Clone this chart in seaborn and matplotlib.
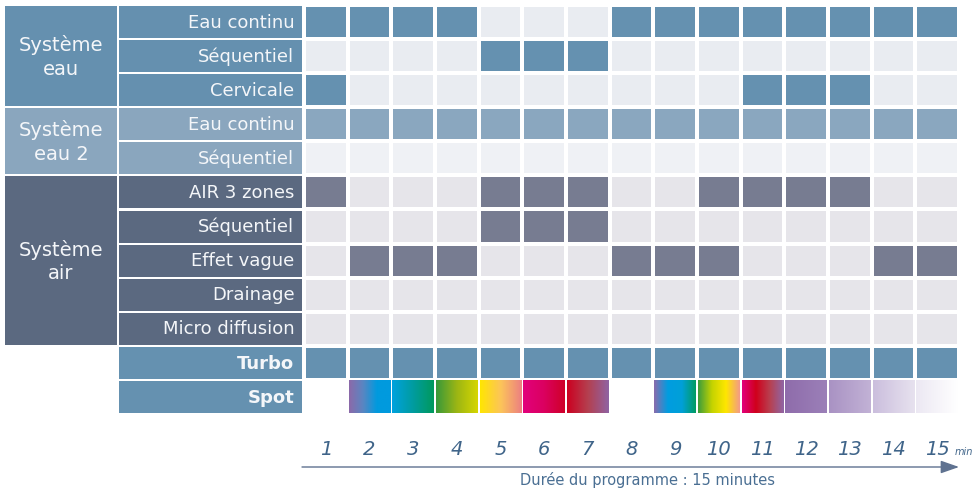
import numpy as np
import seaborn as sns
from matplotlib import pyplot as plt
from matplotlib.colors import ListedColormap, LinearSegmentedColormap
from matplotlib.patches import Rectangle


# minutes of the programme
MINUTES = list(range(1, 16))

ROW_LABELS = ['Eau continu', 'Séquentiel', 'Cervicale',
              'Eau continu', 'Séquentiel',
              'AIR 3 zones', 'Séquentiel', 'Effet vague', 'Drainage', 'Micro diffusion',
              'Turbo', 'Spot']
ROW_GROUPS = ['eau', 'eau', 'eau', 'eau2', 'eau2',
              'air', 'air', 'air', 'air', 'air', 'turbo', 'spot']

GROUP_LABELS = ['Système\neau', 'Système\neau 2', 'Système\nair']
GROUP_SPANS = [(0, 3), (3, 5), (5, 10)]

# on (1) / off (0) per minute
EAU_CONTINU = [1, 1, 1, 1, 0, 0, 0, 1, 1, 1, 1, 1, 1, 1, 1]
EAU_SEQUENTIEL = [0, 0, 0, 0, 1, 1, 1, 0, 0, 0, 0, 0, 0, 0, 0]
CERVICALE = [1, 0, 0, 0, 0, 0, 0, 0, 0, 0, 1, 1, 1, 0, 0]
EAU2_CONTINU = [1, 1, 1, 1, 1, 1, 1, 1, 1, 1, 1, 1, 1, 1, 1]
EAU2_SEQUENTIEL = [0, 0, 0, 0, 0, 0, 0, 0, 0, 0, 0, 0, 0, 0, 0]
AIR_3_ZONES = [1, 0, 0, 0, 1, 1, 1, 0, 0, 1, 1, 1, 1, 0, 0]
AIR_SEQUENTIEL = [0, 0, 0, 0, 1, 1, 1, 0, 0, 0, 0, 0, 0, 0, 0]
EFFET_VAGUE = [0, 1, 1, 1, 0, 0, 0, 1, 1, 1, 0, 0, 0, 1, 1]
DRAINAGE = [0, 0, 0, 0, 0, 0, 0, 0, 0, 0, 0, 0, 0, 0, 0]
MICRO_DIFFUSION = [0, 0, 0, 0, 0, 0, 0, 0, 0, 0, 0, 0, 0, 0, 0]
TURBO = [1, 1, 1, 1, 1, 1, 1, 1, 1, 1, 1, 1, 1, 1, 1]
SPOT = [0, 0, 0, 0, 0, 0, 0, 0, 0, 0, 0, 0, 0, 0, 0]

# spot colour gradient per minute (None = no light)
SPOT_COLORS = [
    None,
    ['#8c69a9', '#5a86c2', '#009ade', '#009ade'],
    ['#00a2df', '#009ca0', '#00995c'],
    ['#38983a', '#9cb614', '#d6d600'],
    ['#ffe600', '#fcc45a', '#ec7f82'],
    ['#e2007c', '#db0060', '#cf0028'],
    ['#cc0020', '#b44050', '#8f63a3'],
    None,
    ['#8a6cad', '#009de0', '#00a0d8', '#009c60'],
    ['#3c9c3c', '#c4d300', '#ffe700', '#f39a88'],
    ['#e2007c', '#d0001c', '#b84050', '#8f66a6'],
    ['#8f6cab', '#9b80b8'],
    ['#a992c3', '#c2b2d6'],
    ['#cbbedd', '#e7e2ef'],
    ['#ece8f3', '#ffffff'],
]

CELL_COLORS = ['#ffffff',             # 0 spot background
               '#e9ecf1', '#6591b0',  # eau off / on
               '#eff1f5', '#8aa7bf',  # eau 2 off / on
               '#e6e5ea', '#777c91',  # air off / on
               '#e9ecf1', '#6591b0']  # turbo off / on
GROUP_BASE = {'eau': 1, 'eau2': 3, 'air': 5, 'turbo': 7, 'spot': 0}
LABEL_COLORS = {'eau': '#6590af', 'eau2': '#8aa6be', 'air': '#5b6980',
                'turbo': '#6591b0', 'spot': '#6591b0'}
TEXT_BLUE = '#3f6489'


def main():
    states = [EAU_CONTINU, EAU_SEQUENTIEL, CERVICALE, EAU2_CONTINU, EAU2_SEQUENTIEL,
              AIR_3_ZONES, AIR_SEQUENTIEL, EFFET_VAGUE, DRAINAGE, MICRO_DIFFUSION,
              TURBO, SPOT]
    codes = np.array([[GROUP_BASE[g] + (v if g != 'spot' else 0) for v in row]
                      for g, row in zip(ROW_GROUPS, states)])

    sns.set_style('white')
    plt.rcParams['font.family'] = ['DejaVu Sans']

    fig = plt.figure(figsize=(9.76, 4.9), dpi=100)
    ax = fig.add_axes([5 / 976, 76 / 490, 954 / 976, 409 / 490])

    sns.heatmap(codes, cmap=ListedColormap(CELL_COLORS), vmin=-0.5, vmax=len(CELL_COLORS) - 0.5,
                cbar=False, linewidths=1.5, linecolor='white',
                xticklabels=MINUTES, yticklabels=False, ax=ax)

    ncol = len(MINUTES)
    col_px = 655 / ncol
    gap = 2 / col_px

    # spot gradients
    spot_row = ROW_LABELS.index('Spot')
    for j, stops in enumerate(SPOT_COLORS):
        if stops is None:
            continue
        cmap = LinearSegmentedColormap.from_list(f'spot{j}', stops)
        ax.imshow(np.linspace(0, 1, 256).reshape(1, -1), cmap=cmap, aspect='auto',
                  extent=(j + gap / 2, j + 1 - gap / 2, spot_row + 0.97, spot_row + 0.03),
                  interpolation='bilinear', zorder=3)

    x_left = -299 / col_px
    lab_x0 = -185 / col_px
    grp_x1 = -187 / col_px

    # row labels
    for i, (label, g) in enumerate(zip(ROW_LABELS, ROW_GROUPS)):
        ax.add_patch(Rectangle((lab_x0, i + 0.03), -gap - lab_x0, 0.94,
                               facecolor=LABEL_COLORS[g], edgecolor='none', clip_on=False))
        bold = g in ('turbo', 'spot')
        ax.text(-0.22, i + 0.52, label, ha='right', va='center', color='#f4f6f9',
                fontsize=13, fontweight='bold' if bold else 'normal')

    # system group labels
    for label, (start, end) in zip(GROUP_LABELS, GROUP_SPANS):
        g = ROW_GROUPS[start]
        ax.add_patch(Rectangle((x_left, start + 0.03), grp_x1 - x_left, end - start - 0.06,
                               facecolor=LABEL_COLORS[g], edgecolor='none', clip_on=False))
        ax.text((x_left + grp_x1) / 2, (start + end) / 2 + 0.02, label, ha='center', va='center',
                color='#f4f6f9', fontsize=14, linespacing=1.3)

    ax.set_xlim(x_left, ncol)
    ax.set_ylim(len(ROW_LABELS), 0)
    ax.set_xticks(np.arange(ncol) + 0.5)
    ax.set_xticklabels(MINUTES, rotation=0, fontsize=14, fontstyle='italic', color=TEXT_BLUE)
    ax.tick_params(axis='x', length=0, pad=19)
    ax.set_xlabel('')
    ax.set_ylabel('')
    for s in ax.spines.values():
        s.set_visible(False)

    fig.text(955 / 976, 1 - 452 / 490, 'min', fontsize=7, fontstyle='italic',
             color=TEXT_BLUE, ha='left', va='center')

    # time arrow
    ax.annotate('', xy=(959 / 976, 1 - 467 / 490), xytext=(302 / 976, 1 - 467 / 490),
                xycoords='figure fraction', textcoords='figure fraction',
                arrowprops=dict(arrowstyle='-|>,head_length=0.8,head_width=0.28',
                                color='#5f7290', lw=1.0,
                                mutation_scale=14, shrinkA=0, shrinkB=0))
    fig.text(648 / 976, 1 - 480 / 490, 'Durée du programme : 15 minutes', fontsize=10.5,
             color='#4a6f93', ha='center', va='center')

    plt.savefig('out.png', dpi=100)


if __name__ == '__main__':
    main()
